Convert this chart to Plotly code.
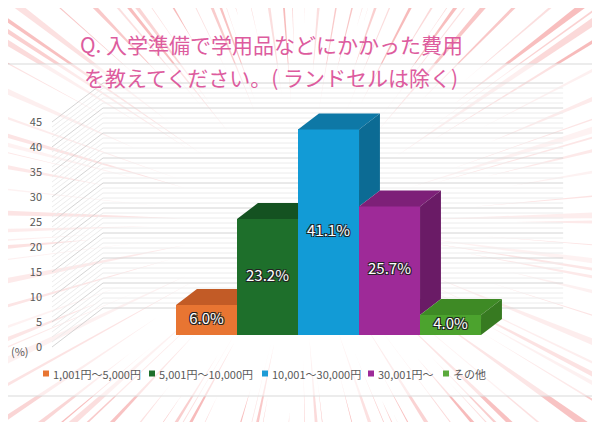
import math
import plotly.graph_objects as go

# chart data
categories = ['1,001円～5,000円', '5,001円～10,000円', '10,001～30,000円', '30,001円～', 'その他']
values = [6.0, 23.2, 41.1, 25.7, 4.0]
value_labels = ['6.0%', '23.2%', '41.1%', '25.7%', '4.0%']
y_ticks = [0, 5, 10, 15, 20, 25, 30, 35, 40, 45]

front_colors = ['#E87532', '#1E6F2B', '#129BD6', '#9E2A98', '#4CA32E']
top_colors = ['#C25B26', '#145221', '#0E78A6', '#7D2078', '#3E8A25']
side_colors = ['#A94E20', '#114A1D', '#0C6B94', '#6A1B66', '#377A21']
legend_colors = ['#E87532', '#1E6F2B', '#1E9BD6', '#9E2A98', '#5AAA3C']
legend_px = [43, 149, 262, 368, 443]   # left edge of each legend key

FONT = 'Noto Sans CJK JP'

# page body has an 8px margin, so the figure is a bit smaller than the window
PAGE_OFF = 8
W, H = 600 - PAGE_OFF, 422 - PAGE_OFF
L, R, T, B = 42, 32, 70, 72
X_RANGE = [-2.307, 6.185]
Y_RANGE = [-0.6, 53.8]
WALL_DX, WALL_DY = 0.836, 7.8      # full floor depth
D0, D1 = 0.31, 0.72                # bars sit between these depths
FLOOR_X0, FLOOR_X1 = -2.274, 5.27

bar_dx = (D1 - D0) * WALL_DX
bar_dy = (D1 - D0) * WALL_DY
bar_base = D0 * WALL_DY
bar_shift = D0 * WALL_DX


def px_to_paper(px, py):
    # window pixel -> paper fraction
    fx, fy = px - PAGE_OFF, py - PAGE_OFF
    return (fx - L) / (W - L - R), (H - B - fy) / (H - T - B)


fig = go.Figure()

# front faces
xs = [i + bar_shift for i in range(len(values))]
fig.add_trace(go.Bar(
    x=xs, y=values, base=bar_base, width=1,
    marker=dict(color=front_colors, line=dict(width=0)),
    showlegend=False, hoverinfo='skip'
))

# tops and visible sides
for i, v in enumerate(values):
    xl = xs[i] - 0.5
    xr = xs[i] + 0.5
    top = bar_base + v
    nxt = values[i + 1] if i + 1 < len(values) else 0
    if nxt > v:
        tx = [xl, xr, xr, xl + bar_dx, xl]
    else:
        tx = [xl, xr, xr + bar_dx, xl + bar_dx, xl]
    ty = [top, top, top + bar_dy, top + bar_dy, top]
    fig.add_trace(go.Scatter(
        x=tx, y=ty, mode='lines', fill='toself', fillcolor=top_colors[i],
        line=dict(width=0), showlegend=False, hoverinfo='skip'
    ))
    if nxt < v:
        low = bar_base + nxt
        sx = [xr, xr, xr + bar_dx, xr + bar_dx, xr]
        sy = [low, top, top + bar_dy, low + bar_dy, low]
        fig.add_trace(go.Scatter(
            x=sx, y=sy, mode='lines', fill='toself', fillcolor=side_colors[i],
            line=dict(width=0), showlegend=False, hoverinfo='skip'
        ))

# value labels
fig.add_trace(go.Scatter(
    x=xs, y=[bar_base + v / 2 for v in values], mode='text', text=value_labels,
    textfont=dict(family=FONT, size=15, color='white',
                  shadow='-1px -1px 0 #222, 1px -1px 0 #222, -1px 1px 0 #222, 1px 1px 0 #222'),
    showlegend=False, hoverinfo='skip', cliponaxis=False
))

shapes = []
annotations = []

# radial burst background
cx, cy = 300, 222
n_rays = 120
for k in range(n_rays):
    ang = 2 * math.pi * k / n_rays + 0.03 * math.sin(7.3 * k)
    half = 0.003 + 0.010 * (0.5 + 0.5 * math.sin(3.7 * k + 1))
    r_in = 115 + 100 * (0.5 + 0.5 * math.cos(5.1 * k))
    r_out = 520
    pts = [
        (cx + r_in * math.cos(ang), cy + r_in * math.sin(ang)),
        (cx + r_out * math.cos(ang - half), cy + r_out * math.sin(ang - half)),
        (cx + r_out * math.cos(ang + half), cy + r_out * math.sin(ang + half)),
    ]
    pp = [px_to_paper(a, b) for a, b in pts]
    path = 'M{:.4f},{:.4f} L{:.4f},{:.4f} L{:.4f},{:.4f} Z'.format(*pp[0], *pp[1], *pp[2])
    alpha = 0.20 + 0.25 * (0.5 + 0.5 * math.sin(2.3 * k))
    shapes.append(dict(type='path', path=path, xref='paper', yref='paper',
                       fillcolor='rgba(238,105,105,{:.2f})'.format(alpha),
                       line=dict(width=0), layer='below'))

# chart area box
bx0, by0 = px_to_paper(2, 396)
bx1, by1 = px_to_paper(598, 64)
shapes.append(dict(type='rect', xref='paper', yref='paper', x0=bx0, y0=by0, x1=bx1, y1=by1,
                   fillcolor='rgba(255,255,255,0.58)', line=dict(color='#d9d9d9', width=1),
                   layer='below'))

# walls: minor and major lines
minor_path, major_path = [], []
for v in range(0, 46):
    seg = 'M{:.4f},{:.4f} L{:.4f},{:.4f} L{:.4f},{:.4f}'.format(
        FLOOR_X0, v, FLOOR_X0 + WALL_DX, v + WALL_DY, FLOOR_X1 + WALL_DX, v + WALL_DY)
    (major_path if v in y_ticks else minor_path).append(seg)
shapes.append(dict(type='path', path=' '.join(minor_path), xref='x', yref='y',
                   line=dict(color='#ececec', width=1), layer='below'))
shapes.append(dict(type='path', path=' '.join(major_path), xref='x', yref='y',
                   line=dict(color='#d4d4d4', width=1), layer='below'))

# legend keys and texts
for name, col, lpx in zip(categories, legend_colors, legend_px):
    k0x, k0y = px_to_paper(lpx, 376.5)
    k1x, k1y = px_to_paper(lpx + 6, 370.5)
    shapes.append(dict(type='rect', xref='paper', yref='paper', x0=k0x, y0=k0y, x1=k1x, y1=k1y,
                       fillcolor=col, line=dict(width=0)))
    tx, ty = px_to_paper(lpx + 8, 373.5)
    annotations.append(dict(text=name, x=tx, y=ty, xref='paper', yref='paper',
                            xanchor='left', yanchor='middle', showarrow=False,
                            font=dict(family=FONT, size=11, color='#595959')))

# title and unit
tx1, ty1 = px_to_paper(271, 44)
tx2, ty2 = px_to_paper(271, 77)
ux, uy = px_to_paper(20, 351)
annotations += [
    dict(text='Q. 入学準備で学用品などにかかった費用', x=tx1, y=ty1, xref='paper', yref='paper',
         xanchor='center', yanchor='middle', showarrow=False,
         font=dict(family=FONT, size=21, color='#DD5C9E')),
    dict(text='を教えてください。( ランドセルは除く)', x=tx2, y=ty2, xref='paper', yref='paper',
         xanchor='center', yanchor='middle', showarrow=False,
         font=dict(family=FONT, size=21, color='#DD5C9E')),
    dict(text='(%)', x=ux, y=uy, xref='paper', yref='paper', showarrow=False,
         xanchor='center', yanchor='middle',
         font=dict(family=FONT, size=11, color='#595959')),
]

fig.update_layout(
    width=W, height=H,
    margin=dict(l=L, r=R, t=T, b=B),
    paper_bgcolor='white', plot_bgcolor='rgba(0,0,0,0)',
    shapes=shapes, annotations=annotations,
    font=dict(family=FONT, color='#595959'),
    showlegend=False,
    bargap=0,
)
fig.update_xaxes(range=X_RANGE, visible=False, fixedrange=True)
fig.update_yaxes(range=Y_RANGE, tickvals=y_ticks, showgrid=False, zeroline=False,
                 showline=False, ticklabelstandoff=7,
                 tickfont=dict(family=FONT, size=11, color='#595959'),
                 fixedrange=True)

fig.write_html('out.html')
